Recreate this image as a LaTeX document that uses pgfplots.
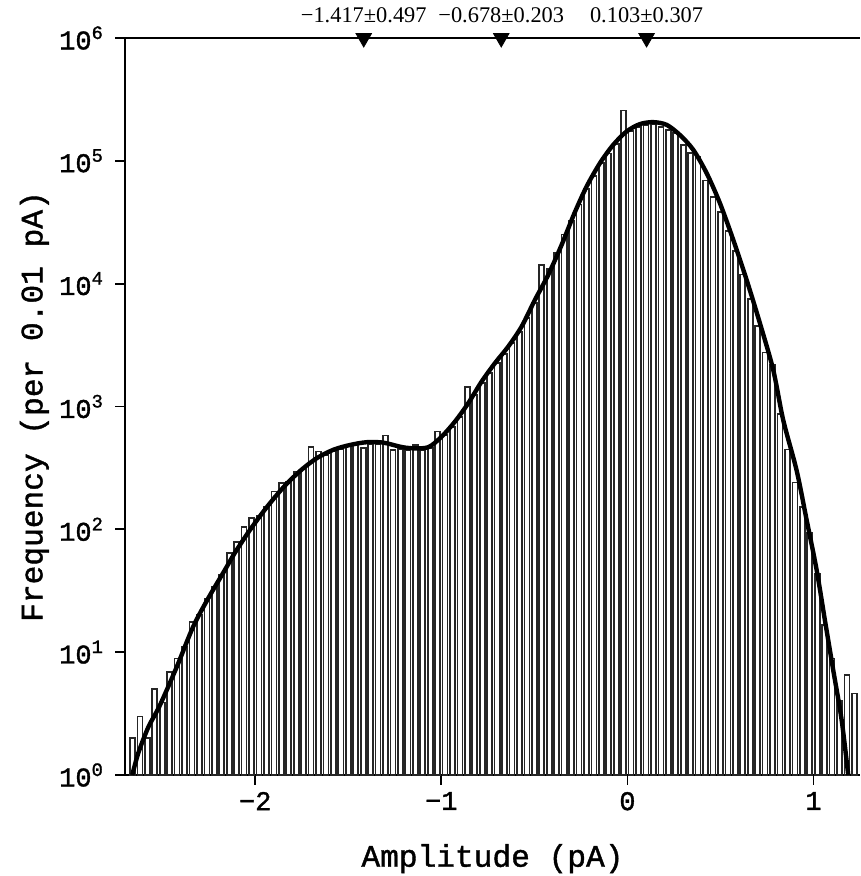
\documentclass[border=0pt]{standalone}
\usepackage{fontspec}
\setmainfont{Liberation Serif}
\newfontfamily\cour[FakeBold=1.3]{Liberation Mono}
\usepackage{pgfplots}
\pgfplotsset{compat=1.18}
\begin{document}
\begin{tikzpicture}
\useasboundingbox (-62.5pt,-50.5pt) rectangle (367.5pt,387.5pt);
\begin{axis}[
  at={(0,0)}, anchor=south west,
  width=367.5pt, height=368.5pt, scale only axis,
  xmin=-2.70, xmax=1.25,
  ymode=log, ymin=1, ymax=1e6,
  axis lines*=left, axis line style={-, line width=1pt},
  clip=false,
  tick align=outside, major tick length=5pt,
  tick style={black, line width=0.9pt},
  xtick={-2,-1,0,1}, xticklabels={−2,−1,0,1},
  ytick={1,10,100,1000,10000,100000,1000000},
  yticklabels={10\textsuperscript{0},10\textsuperscript{1},10\textsuperscript{2},10\textsuperscript{3},10\textsuperscript{4},10\textsuperscript{5},10\textsuperscript{6}},
  yminorticks=false, xminorticks=false,
  ticklabel style={font=\cour\fontsize{13.5}{15}\selectfont},
  yticklabel style={xshift=-2pt},
  xlabel={Amplitude (pA)}, ylabel={Frequency (per 0.01 pA)},
  label style={font=\cour\fontsize{15.6}{18}\selectfont},
  xlabel style={yshift=-10pt},
  ylabel style={at={(rel axis cs:-0.094,0.5)}, anchor=south},
]
\draw[line width=1pt] (rel axis cs:0,1) -- (rel axis cs:1,1);
\addplot[ybar, bar width=0.027, fill=white, draw=black!85, line width=0.85pt] coordinates {
(-2.66,2.0) (-2.62,3.0) (-2.58,2.0) (-2.54,5.0) (-2.50,3.9) (-2.46,6.9) (-2.42,8.9) (-2.38,11)
(-2.34,17.7) (-2.30,20) (-2.26,27) (-2.22,34) (-2.18,42.6) (-2.14,64) (-2.10,79) (-2.06,105)
(-2.02,123) (-1.98,129) (-1.94,153) (-1.90,203) (-1.86,237) (-1.82,243) (-1.78,295) (-1.74,309)
(-1.70,466) (-1.66,430) (-1.62,403) (-1.58,432) (-1.54,452) (-1.50,473) (-1.46,484) (-1.42,457)
(-1.38,490) (-1.34,490) (-1.30,579) (-1.26,444) (-1.22,452) (-1.18,442) (-1.14,486) (-1.10,442)
(-1.06,462) (-1.02,625) (-0.98,589) (-0.94,684) (-0.90,822) (-0.86,1445) (-0.82,1245) (-0.78,1549)
(-0.74,1884) (-0.70,2265) (-0.66,2692) (-0.62,3273) (-0.58,4027) (-0.54,5248) (-0.50,6918) (-0.46,14130)
(-0.42,13180) (-0.38,17780) (-0.34,25120) (-0.30,32360) (-0.26,44160) (-0.22,58880) (-0.18,74990) (-0.14,95500)
(-0.10,114800) (-0.06,136500) (-0.02,257000) (0.02,173800) (0.06,188400) (0.10,195000) (0.14,197200) (0.18,188400)
(0.22,177800) (0.26,168300) (0.30,134900) (0.34,115600) (0.38,107200) (0.42,69180) (0.46,50700) (0.50,38280)
(0.54,26730) (0.58,18450) (0.62,11860) (0.66,7499) (0.70,4498) (0.74,2754) (0.78,2173) (0.82,871)
(0.86,447) (0.90,240) (0.94,151) (0.98,93) (1.02,43.7) (1.06,16.6) (1.10,8.9) (1.14,4.0)
(1.18,6.5) (1.22,4.6)
};
\addplot[line width=2.2pt, black, smooth, tension=0.5] coordinates {
(-2.6608,1.00) (-2.6285,1.51) (-2.5748,2.45) (-2.5211,3.47) (-2.4673,5.25) (-2.4136,8.13)
(-2.3330,16.2) (-2.2524,27.5) (-2.1627,46.8) (-2.1089,64.6) (-2.0283,98.9) (-1.9386,151)
(-1.8494,219) (-1.7597,298) (-1.6699,379) (-1.5807,444) (-1.4910,486) (-1.4012,512)
(-1.3120,508) (-1.2223,471) (-1.1594,457) (-1.0702,466) (-0.9982,569) (-0.9268,753)
(-0.8553,1064) (-0.7833,1596) (-0.7118,2254) (-0.6404,3076) (-0.5684,4477) (-0.4969,7379)
(-0.4254,11800) (-0.3534,20700) (-0.2857,37150) (-0.2191,61800) (-0.1476,95720) (-0.0762,134900)
(-0.0042,173400) (0.0673,199100) (0.1388,206500) (0.2108,196300) (0.2823,162200) (0.3537,123000)
(0.4257,79430) (0.4972,45190) (0.5687,22750) (0.6407,10720) (0.7121,4764) (0.7836,1986)
(0.8373,776) (0.9093,302) (0.9631,119.4) (1.0168,46.8) (1.0614,18.2) (1.1060,7.16)
(1.1512,2.81) (1.1866,1.00)
};
\addplot[only marks, mark=triangle*, mark size=4.5pt, mark options={rotate=180, fill=black, draw=black},
  nodes near coords, point meta=explicit symbolic,
  every node near coord/.style={anchor=base, yshift=7.5pt, inner sep=0pt, text=black, font=\fontsize{11.2}{12}\selectfont}]
  coordinates {(-1.417,1000000) [−1.417±0.497] (-0.678,1000000) [−0.678±0.203] (0.103,1000000) [0.103±0.307]};
\end{axis}
\end{tikzpicture}
\end{document}
